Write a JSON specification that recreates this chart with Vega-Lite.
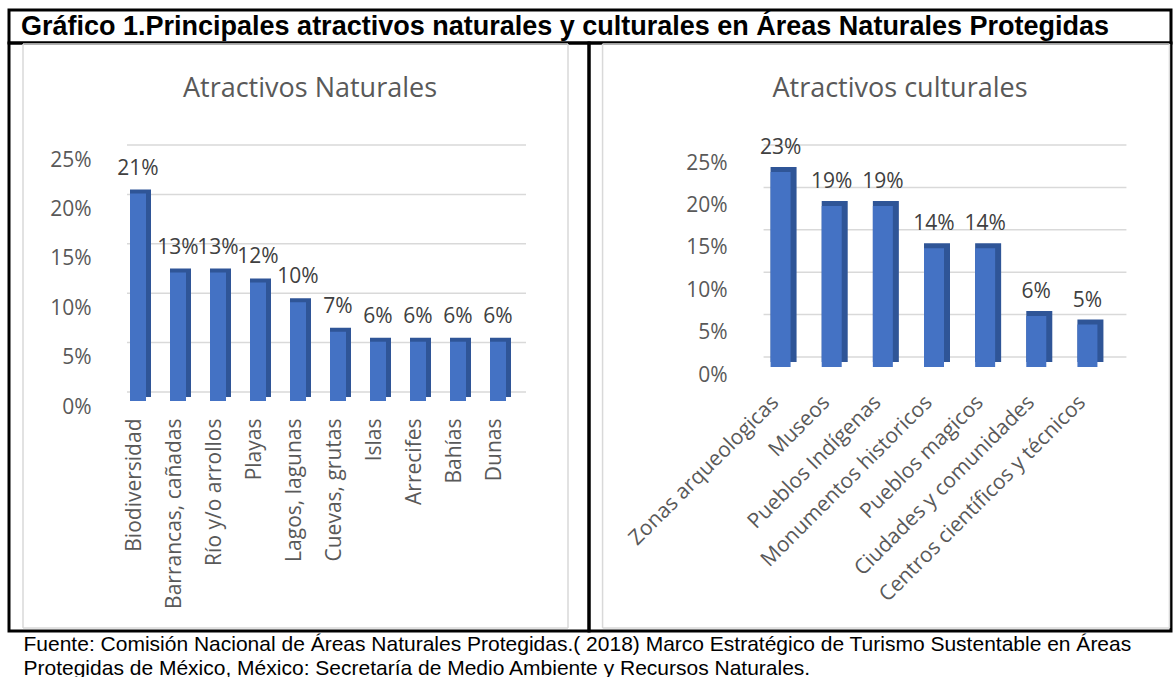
{
  "$schema": "https://vega.github.io/schema/vega-lite/v6.json",
  "background": "white",
  "padding": {"left": 7, "top": 8, "right": 0, "bottom": 0},
  "config": {"view": {"stroke": null}, "font": "Open Sans"},
  "title": {
    "text": ["Fuente: Comisión Nacional de Áreas Naturales Protegidas.( 2018) Marco Estratégico de Turismo Sustentable en Áreas", "Protegidas de México, México: Secretaría de Medio Ambiente y Recursos Naturales."],
    "orient": "bottom", "anchor": "start", "font": "Liberation Sans", "fontSize": 21, "fontWeight": "normal", "color": "black",
    "lineHeight": 24, "dx": 16, "offset": 1, "baseline": "top", "frame": "bounds"
  },
  "bounds": "flush",
  "spacing": 0,
  "vconcat": [
    {
      "width": 1162, "height": 33,
      "view": {"stroke": "black", "strokeWidth": 3},
      "title": {"text": "Gráfico 1.Principales atractivos naturales y culturales en Áreas Naturales Protegidas", "frame": "group", "anchor": "start", "dx": 12, "offset": -52, "baseline": "alphabetic", "font": "Liberation Sans", "fontSize": 27, "fontWeight": "bold", "color": "black"},
      "data": {"values": []},
      "mark": "rule",
      "encoding": {}
    },
    {
      "bounds": "flush",
      "spacing": 0,
      "hconcat": [
        {
          "width": 580, "height": 588,
          "view": {"stroke": "black", "strokeWidth": 3},
          "title": {"text": "Atractivos Naturales", "frame": "group", "anchor": "middle", "dx": 11, "offset": -81, "baseline": "alphabetic", "fontSize": 27, "font": "Open Sans", "fontWeight": "normal", "color": "#595959"},
          "data": {"values": [
            {"cat": "Biodiversidad", "v": 0.21},
            {"cat": "Barrancas, cañadas", "v": 0.13},
            {"cat": "Río y/o arrollos", "v": 0.13},
            {"cat": "Playas", "v": 0.12},
            {"cat": "Lagos, lagunas", "v": 0.10},
            {"cat": "Cuevas, grutas", "v": 0.07},
            {"cat": "Islas", "v": 0.06},
            {"cat": "Arrecifes", "v": 0.06},
            {"cat": "Bahías", "v": 0.06},
            {"cat": "Dunas", "v": 0.06}
          ]},
          "layer": [
            {
              "data": {"values": [{}]},
              "mark": {"type": "rule", "color": "#D9D9D9", "strokeWidth": 1.5, "xOffset": -117, "x2Offset": 68, "yOffset": -110},
              "encoding": {"x": {"datum": "Biodiversidad", "type": "nominal"}, "x2": {"datum": "Dunas"}, "y": {"datum": 0.25, "type": "quantitative"}}
            },
            {
              "data": {"values": [{}]},
              "mark": {"type": "rule", "color": "#D9D9D9", "strokeWidth": 1.5, "xOffset": -117, "x2Offset": 68, "yOffset": 227},
              "encoding": {"x": {"datum": "Biodiversidad", "type": "nominal"}, "x2": {"datum": "Dunas"}, "y": {"datum": 0, "type": "quantitative"}}
            },
            {
              "data": {"values": [{}]},
              "mark": {"type": "rule", "color": "#D9D9D9", "strokeWidth": 1.5, "xOffset": -117, "yOffset": 227, "y2Offset": -110},
              "encoding": {"x": {"datum": "Biodiversidad", "type": "nominal"}, "y": {"datum": 0, "type": "quantitative"}, "y2": {"datum": 0.25}}
            },
            {
              "data": {"values": [{}]},
              "mark": {"type": "rule", "color": "#D9D9D9", "strokeWidth": 1.5, "xOffset": 68, "yOffset": 227, "y2Offset": -110},
              "encoding": {"x": {"datum": "Dunas", "type": "nominal"}, "y": {"datum": 0, "type": "quantitative"}, "y2": {"datum": 0.25}}
            },
            {
              "data": {"values": [{"g": 0}, {"g": 0.05}, {"g": 0.10}, {"g": 0.15}, {"g": 0.20}, {"g": 0.25}]},
              "mark": {"type": "rule", "color": "#D9D9D9", "strokeWidth": 1.5, "yOffset": -9, "xOffset": -13, "x2Offset": 26},
              "encoding": {
                "x": {"datum": "Biodiversidad", "type": "nominal", "axis": {"title": null}},
                "x2": {"datum": "Dunas"},
                "y": {"field": "g", "type": "quantitative", "scale": {"domain": [0, 0.25], "nice": false, "range": [358, 111]},
                  "axis": {"title": null, "format": ".0%", "values": [0, 0.05, 0.1, 0.15, 0.2, 0.25], "grid": false, "ticks": false, "domain": false, "offset": -111, "labelFont": "Open Sans", "labelFontSize": 21, "labelColor": "#595959", "labelPadding": 29, "labelOffset": 6}}
              }
            },
            {
              "mark": {"type": "bar", "width": 21, "color": "#2F5597", "yOffset": -4, "xOffset": 0.5},
              "encoding": {
                "x": {"field": "cat", "type": "nominal", "sort": null,
                  "scale": {"domain": ["Biodiversidad", "Barrancas, cañadas", "Río y/o arrollos", "Playas", "Lagos, lagunas", "Cuevas, grutas", "Islas", "Arrecifes", "Bahías", "Dunas"], "range": [111, 511], "paddingInner": 0, "paddingOuter": 0},
                  "axis": {"title": null, "labelAngle": -90, "ticks": false, "domain": false, "offset": -230, "labelFont": "Open Sans", "labelFontSize": 21, "labelColor": "#595959", "labelPadding": 17, "labelOffset": -5, "labelLimit": 400}},
                "y": {"field": "v", "type": "quantitative"}
              }
            },
            {
              "mark": {"type": "bar", "width": 16, "color": "#4472C4", "xOffset": -2},
              "encoding": {
                "x": {"field": "cat", "type": "nominal", "sort": null},
                "y": {"field": "v", "type": "quantitative"}
              }
            },
            {
              "mark": {"type": "text", "fontSize": 21, "font": "Open Sans", "color": "#404040", "baseline": "alphabetic", "dy": -19, "xOffset": -2},
              "encoding": {
                "x": {"field": "cat", "type": "nominal", "sort": null},
                "y": {"field": "v", "type": "quantitative"},
                "text": {"field": "v", "type": "quantitative", "format": ".0%"}
              }
            }
          ]
        },
        {
          "width": 582, "height": 588,
          "view": {"stroke": "black", "strokeWidth": 3},
          "title": {"text": "Atractivos culturales", "frame": "group", "anchor": "middle", "dx": 20, "offset": -81, "baseline": "alphabetic", "fontSize": 27, "font": "Open Sans", "fontWeight": "normal", "color": "#595959"},
          "data": {"values": [
            {"cat": "Zonas arqueologicas", "v": 0.23},
            {"cat": "Museos", "v": 0.19},
            {"cat": "Pueblos Indígenas", "v": 0.19},
            {"cat": "Monumentos historicos", "v": 0.14},
            {"cat": "Pueblos magicos", "v": 0.14},
            {"cat": "Ciudades y comunidades", "v": 0.06},
            {"cat": "Centros científicos y técnicos", "v": 0.05}
          ]},
          "layer": [
            {
              "data": {"values": [{}]},
              "mark": {"type": "rule", "color": "#D9D9D9", "strokeWidth": 1.5, "xOffset": -181, "x2Offset": 79, "yOffset": -111},
              "encoding": {"x": {"datum": "Zonas arqueologicas", "type": "nominal"}, "x2": {"datum": "Centros científicos y técnicos"}, "y": {"datum": 0.25, "type": "quantitative"}}
            },
            {
              "data": {"values": [{}]},
              "mark": {"type": "rule", "color": "#D9D9D9", "strokeWidth": 1.5, "xOffset": -181, "x2Offset": 79, "yOffset": 261},
              "encoding": {"x": {"datum": "Zonas arqueologicas", "type": "nominal"}, "x2": {"datum": "Centros científicos y técnicos"}, "y": {"datum": 0, "type": "quantitative"}}
            },
            {
              "data": {"values": [{}]},
              "mark": {"type": "rule", "color": "#D9D9D9", "strokeWidth": 1.5, "xOffset": -181, "yOffset": 261, "y2Offset": -111},
              "encoding": {"x": {"datum": "Zonas arqueologicas", "type": "nominal"}, "y": {"datum": 0, "type": "quantitative"}, "y2": {"datum": 0.25}}
            },
            {
              "data": {"values": [{}]},
              "mark": {"type": "rule", "color": "#D9D9D9", "strokeWidth": 1.5, "xOffset": 79, "yOffset": 261, "y2Offset": -111},
              "encoding": {"x": {"datum": "Centros científicos y técnicos", "type": "nominal"}, "y": {"datum": 0, "type": "quantitative"}, "y2": {"datum": 0.25}}
            },
            {
              "data": {"values": [{"g": 0}, {"g": 0.05}, {"g": 0.10}, {"g": 0.15}, {"g": 0.20}, {"g": 0.25}]},
              "mark": {"type": "rule", "color": "#D9D9D9", "strokeWidth": 1.5, "yOffset": -10, "xOffset": -20, "x2Offset": 36},
              "encoding": {
                "x": {"datum": "Zonas arqueologicas", "type": "nominal", "axis": {"title": null}},
                "x2": {"datum": "Centros científicos y técnicos"},
                "y": {"field": "g", "type": "quantitative", "scale": {"domain": [0, 0.25], "nice": false, "range": [324, 112]},
                  "axis": {"title": null, "format": ".0%", "values": [0, 0.05, 0.1, 0.15, 0.2, 0.25], "grid": false, "ticks": false, "domain": false, "offset": -169, "labelFont": "Open Sans", "labelFontSize": 21, "labelColor": "#595959", "labelPadding": 31, "labelOffset": 8}}
              }
            },
            {
              "mark": {"type": "bar", "width": 26, "color": "#2F5597", "yOffset": -5, "xOffset": 0},
              "encoding": {
                "x": {"field": "cat", "type": "nominal", "sort": null,
                  "scale": {"domain": ["Zonas arqueologicas", "Museos", "Pueblos Indígenas", "Monumentos historicos", "Pueblos magicos", "Ciudades y comunidades", "Centros científicos y técnicos"], "range": [169, 527], "paddingInner": 0, "paddingOuter": 0},
                  "axis": {"title": null, "labelAngle": -45, "ticks": false, "domain": false, "offset": -264, "labelFont": "Open Sans", "labelFontSize": 21, "labelColor": "#595959", "labelPadding": 32, "labelOffset": -8, "labelLimit": 400}},
                "y": {"field": "v", "type": "quantitative"}
              }
            },
            {
              "mark": {"type": "bar", "width": 20, "color": "#4472C4", "xOffset": -3},
              "encoding": {
                "x": {"field": "cat", "type": "nominal", "sort": null},
                "y": {"field": "v", "type": "quantitative"}
              }
            },
            {
              "mark": {"type": "text", "fontSize": 21, "font": "Open Sans", "color": "#404040", "baseline": "alphabetic", "dy": -18, "xOffset": -3},
              "encoding": {
                "x": {"field": "cat", "type": "nominal", "sort": null},
                "y": {"field": "v", "type": "quantitative"},
                "text": {"field": "v", "type": "quantitative", "format": ".0%"}
              }
            }
          ]
        }
      ]
    }
  ]
}
